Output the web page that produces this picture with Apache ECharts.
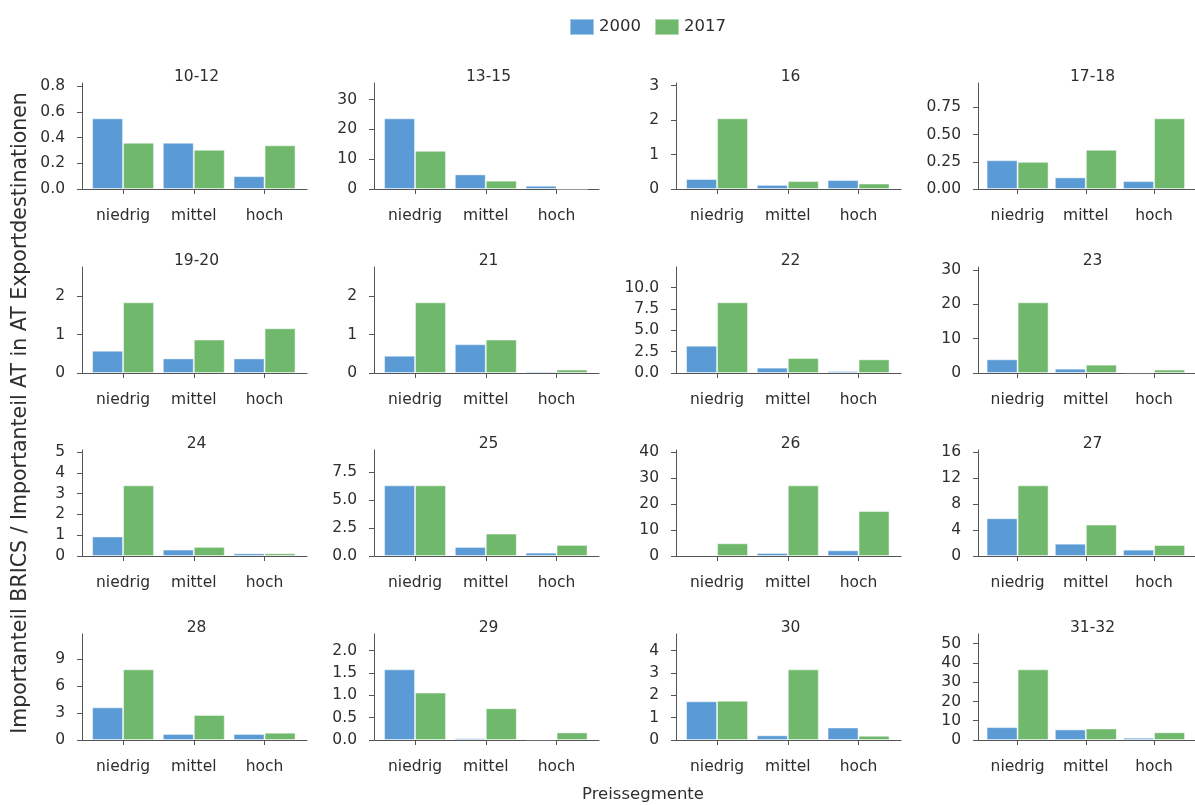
<!DOCTYPE html>
<html>
<head>
<meta charset="utf-8">
<script src="https://cdn.jsdelivr.net/npm/echarts@6/dist/echarts.min.js"></script>
<style>
html,body{margin:0;padding:0;background:#fff;}
#chart{width:1195px;height:805px;}
</style>
</head>
<body>
<div id="chart"></div>
<script>
const categories = ['niedrig', 'mittel', 'hoch'];
const seriesNames = ['2000', '2017'];
const panelTitles = ['10-12','13-15','16','17-18','19-20','21','22','23','24','25','26','27','28','29','30','31-32'];
const values2000 = [
  [0.55, 0.36, 0.10],
  [23.7, 4.9, 1.1],
  [0.29, 0.12, 0.26],
  [0.265, 0.107, 0.073],
  [0.58, 0.38, 0.38],
  [0.45, 0.75, 0.04],
  [3.2, 0.63, 0.23],
  [4.0, 1.27, 0.2],
  [0.94, 0.31, 0.13],
  [6.3, 0.81, 0.3],
  [0.4, 1.16, 2.2],
  [5.83, 1.9, 0.98],
  [3.63, 0.67, 0.67],
  [1.58, 0.04, 0.015],
  [1.73, 0.21, 0.56],
  [6.7, 5.5, 1.2]
];
const values2017 = [
  [0.36, 0.305, 0.34],
  [12.8, 2.8, 0],
  [2.05, 0.23, 0.16],
  [0.25, 0.36, 0.65],
  [1.84, 0.87, 1.165],
  [1.84, 0.87, 0.09],
  [8.28, 1.76, 1.6],
  [20.6, 2.43, 1.0],
  [3.40, 0.44, 0.13],
  [6.3, 2.0, 0.99],
  [4.9, 27.2, 17.3],
  [10.9, 4.85, 1.7],
  [7.85, 2.78, 0.81],
  [1.06, 0.71, 0.17],
  [1.76, 3.16, 0.19],
  [36.7, 6.0, 4.0]
];
const yTickLabels = [
  ['0.0','0.2','0.4','0.6','0.8'],
  ['0','10','20','30'],
  ['0','1','2','3'],
  ['0.00','0.25','0.50','0.75'],
  ['0','1','2'],
  ['0','1','2'],
  ['0.0','2.5','5.0','7.5','10.0'],
  ['0','10','20','30'],
  ['0','1','2','3','4','5'],
  ['0.0','2.5','5.0','7.5'],
  ['0','10','20','30','40'],
  ['0','4','8','12','16'],
  ['0','3','6','9'],
  ['0.0','0.5','1.0','1.5','2.0'],
  ['0','1','2','3','4'],
  ['0','10','20','30','40','50']
];
const yLabelText = 'Importanteil BRICS / Importanteil AT in AT Exportdestinationen';
const xLabelText = 'Preissegmente';

const FONT = 'DejaVu Sans';
const TXT = '#2e2e2e';
const AXIS = '#555555';
const colors = ['#5b9bd5', '#70b96c'];
const colLeft = [82, 374, 676, 978];
const rowBase = [189, 373, 556, 740];
const plotW = 225, plotH = 106;

const grids = [], xAxes = [], yAxes = [], series = [], titles = [];
panelTitles.forEach((t, i) => {
  const r = Math.floor(i / 4), c = i % 4;
  const top = rowBase[r] - plotH;
  grids.push({left: colLeft[c], top: top, width: plotW, height: plotH});
  titles.push({
    text: t, left: colLeft[c] + plotW / 2 - 3, top: rowBase[r] - 125, textAlign: 'center',
    textStyle: {fontFamily: FONT, fontSize: 15.5, fontWeight: 'normal', color: TXT}
  });
  xAxes.push({
    gridIndex: i, type: 'value', min: -0.58, max: 2.6,
    axisLine: {show: true, onZero: false, lineStyle: {color: AXIS, width: 1}},
    axisTick: {show: true, length: 5, customValues: [0, 1, 2], lineStyle: {color: AXIS}},
    axisLabel: {customValues: [0, 1, 2], formatter: v => categories[Math.round(v)],
      fontFamily: FONT, fontSize: 15.5, color: TXT, margin: 19},
    splitLine: {show: false}
  });
  const tickVals = yTickLabels[i].map(Number);
  const allV = values2000[i].concat(values2017[i]);
  yAxes.push({
    gridIndex: i, type: 'value', min: 0, max: Math.max.apply(null, allV) * 1.5,
    axisLine: {show: true, onZero: false, lineStyle: {color: AXIS, width: 1}},
    axisTick: {show: true, length: 5, customValues: tickVals, lineStyle: {color: AXIS}},
    axisLabel: {customValues: tickVals,
      formatter: v => { const k = tickVals.findIndex(x => Math.abs(x - v) < 1e-9); return k >= 0 ? yTickLabels[i][k] : ''; },
      fontFamily: FONT, fontSize: 15.5, color: TXT, margin: 17},
    splitLine: {show: false}
  });
  [values2000[i], values2017[i]].forEach((vals, s) => {
    series.push({
      type: 'bar', name: seriesNames[s], xAxisIndex: i, yAxisIndex: i,
      barWidth: 31, barGap: '0%',
      itemStyle: {color: colors[s], borderColor: 'rgba(255,255,255,0.45)', borderWidth: 1},
      data: vals.map((v, k) => [k, v]),
      emphasis: {disabled: true}
    });
  });
});

const chart = echarts.init(document.getElementById('chart'), null, {renderer: 'canvas'});
chart.setOption({
  animation: false,
  backgroundColor: '#ffffff',
  color: colors,
  title: titles,
  legend: {
    data: seriesNames, top: 13, left: 564, itemWidth: 24, itemHeight: 16, itemGap: 13,
    icon: 'rect',
    textStyle: {fontFamily: FONT, fontSize: 16.5, color: TXT}
  },
  grid: grids, xAxis: xAxes, yAxis: yAxes, series: series,
  graphic: [
    {type: 'text', x: 21, y: 413, rotation: Math.PI / 2,
      style: {text: yLabelText, fill: TXT, font: '20.5px "DejaVu Sans"', textAlign: 'center', textVerticalAlign: 'middle'}},
    {type: 'text', x: 643, y: 795,
      style: {text: xLabelText, fill: TXT, font: '16.5px "DejaVu Sans"', textAlign: 'center', textVerticalAlign: 'middle'}}
  ]
});
</script>
</body>
</html>
